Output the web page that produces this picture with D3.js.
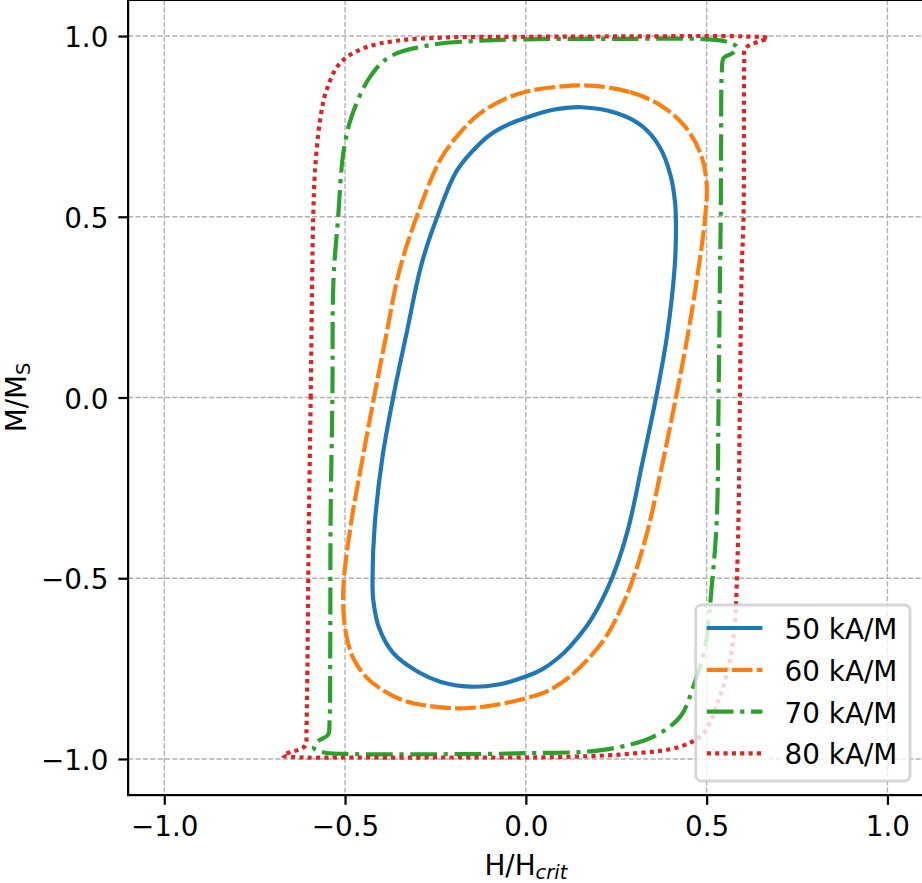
<!DOCTYPE html>
<html>
<head>
<meta charset="utf-8">
<script src="https://cdn.jsdelivr.net/npm/d3@7/dist/d3.min.js"></script>
<style>
  html, body { margin: 0; padding: 0; background: #fff; overflow: hidden; }
  svg { display: block; font-family: "DejaVu Sans", sans-serif; }
</style>
</head>
<body>
<script>
// ---------------- DATA ----------------
const seriesNames = ["50 kA/M", "60 kA/M", "70 kA/M", "80 kA/M"];

// Each loop: [H/Hcrit, M/Ms] points, ordered along the loop
const loop50 = [
  [0.155, 0.803], [0.250, 0.787], [0.320, 0.752], [0.370, 0.693], [0.400, 0.615],
  [0.413, 0.535], [0.415, 0.450], [0.411, 0.353], [0.390, 0.168], [0.360, 0.000],
  [0.322, -0.182], [0.282, -0.367], [0.238, -0.500], [0.180, -0.615], [0.122, -0.689],
  [0.090, -0.720], [0.045, -0.752], [0.000, -0.772], [-0.076, -0.794], [-0.154, -0.800],
  [-0.235, -0.787], [-0.300, -0.758], [-0.366, -0.708], [-0.405, -0.640], [-0.422, -0.560],
  [-0.424, -0.500], [-0.418, -0.353], [-0.397, -0.168], [-0.367, 0.000], [-0.329, 0.182],
  [-0.289, 0.367], [-0.245, 0.500], [-0.190, 0.629], [-0.127, 0.703], [-0.090, 0.733],
  [-0.045, 0.757], [0.000, 0.774], [0.076, 0.796]
];

const loop60 = [
  [0.178, 0.863], [0.288, 0.845], [0.370, 0.810], [0.440, 0.750], [0.485, 0.670],
  [0.500, 0.590], [0.496, 0.500], [0.477, 0.353], [0.447, 0.168], [0.415, 0.000],
  [0.378, -0.182], [0.337, -0.367], [0.297, -0.500], [0.260, -0.590], [0.214, -0.673],
  [0.122, -0.772], [0.060, -0.812], [0.000, -0.832], [-0.100, -0.853], [-0.191, -0.860],
  [-0.270, -0.853], [-0.339, -0.838], [-0.395, -0.810], [-0.440, -0.775], [-0.478, -0.720],
  [-0.498, -0.650], [-0.505, -0.580], [-0.503, -0.500], [-0.482, -0.339], [-0.454, -0.182],
  [-0.420, 0.000], [-0.387, 0.168], [-0.350, 0.350], [-0.302, 0.500], [-0.237, 0.657],
  [-0.180, 0.735], [-0.127, 0.786], [-0.060, 0.825], [0.000, 0.846], [0.090, 0.860]
];

const loop70 = [
  [-0.532, 0.325], [-0.519, 0.500], [-0.505, 0.675], [-0.482, 0.777], [-0.431, 0.887],
  [-0.376, 0.943], [-0.265, 0.975], [-0.127, 0.987], [0.000, 0.991], [0.250, 0.992],
  [0.500, 0.991], [0.560, 0.983], [0.584, 0.969], [0.572, 0.953], [0.547, 0.939],
  [0.542, 0.900], [0.540, 0.700], [0.539, 0.500], [0.537, 0.353], [0.533, 0.000],
  [0.528, -0.339], [0.514, -0.523], [0.496, -0.689], [0.463, -0.800], [0.427, -0.883],
  [0.353, -0.938], [0.214, -0.975], [0.000, -0.984], [-0.247, -0.987], [-0.500, -0.986],
  [-0.558, -0.982], [-0.586, -0.970], [-0.576, -0.952], [-0.547, -0.933], [-0.543, -0.900],
  [-0.541, -0.700], [-0.540, -0.339], [-0.535, 0.000]
];

const loop80 = [
  [-0.600, -0.339], [-0.595, 0.000], [-0.591, 0.325], [-0.588, 0.500], [-0.583, 0.629],
  [-0.569, 0.768], [-0.551, 0.851], [-0.514, 0.925], [-0.450, 0.966], [-0.357, 0.987],
  [-0.219, 0.996], [0.000, 0.998], [0.300, 0.999], [0.600, 0.999], [0.670, 0.994],
  [0.648, 0.986], [0.625, 0.977], [0.606, 0.966], [0.604, 0.930], [0.602, 0.500],
  [0.597, 0.353], [0.592, 0.000], [0.588, -0.339], [0.583, -0.523], [0.579, -0.615],
  [0.565, -0.726], [0.533, -0.837], [0.491, -0.929], [0.427, -0.966], [0.307, -0.984],
  [0.122, -0.994], [-0.247, -0.996], [-0.523, -0.996], [-0.615, -0.996], [-0.672, -0.990],
  [-0.650, -0.981], [-0.627, -0.974], [-0.609, -0.962], [-0.607, -0.930]
];

const xTickValues = [-1.0, -0.5, 0.0, 0.5, 1.0];
const xTickLabels = ["\u22121.0", "\u22120.5", "0.0", "0.5", "1.0"];
const yTickValues = [-1.0, -0.5, 0.0, 0.5, 1.0];
const yTickLabels = ["\u22121.0", "\u22120.5", "0.0", "0.5", "1.0"];
const xDomain = [-1.1, 1.1];
const yDomain = [-1.1, 1.1];

// ---------------- LAYOUT / STYLE ----------------
const W = 922, H = 883;
const plot = { left: 128.1, right: 923.6, top: -0.1, bottom: 795.1 };
const FS = 27.8;            // 10pt @ 200dpi
const LW = 4.17;            // 1.5pt
const colors = ["#1f77b4", "#ff7f0e", "#2ca02c", "#d62728"];
const dashes = [null, "20.8,4.17", "26.7,6.67,4.17,6.67", "4.17,4.17"];
const loops = [loop50, loop60, loop70, loop80];

const svg = d3.select("body").append("svg").attr("width", W).attr("height", H);

const x = d3.scaleLinear().domain(xDomain).range([plot.left, plot.right]);
const y = d3.scaleLinear().domain(yDomain).range([plot.bottom, plot.top]);

svg.append("defs").append("clipPath").attr("id", "clip")
  .append("rect")
  .attr("x", plot.left).attr("y", plot.top)
  .attr("width", plot.right - plot.left).attr("height", plot.bottom - plot.top);

// grid
const grid = svg.append("g").attr("clip-path", "url(#clip)")
  .attr("stroke", "#b0b0b0").attr("stroke-width", 1.39)
  .attr("stroke-dasharray", "5.14,2.22").attr("fill", "none");
grid.selectAll("line.gx").data(xTickValues).join("line").attr("class", "gx")
  .attr("x1", d => x(d)).attr("x2", d => x(d))
  .attr("y1", plot.top).attr("y2", plot.bottom);
grid.selectAll("line.gy").data(yTickValues).join("line").attr("class", "gy")
  .attr("y1", d => y(d)).attr("y2", d => y(d))
  .attr("x1", plot.left).attr("x2", plot.right);

// curves
const line = d3.line()
  .x(d => x(d[0])).y(d => y(d[1]))
  .curve(d3.curveCatmullRomClosed.alpha(0.5));

const curves = svg.append("g").attr("clip-path", "url(#clip)");
loops.forEach((pts, i) => {
  curves.append("path")
    .datum(pts)
    .attr("d", line)
    .attr("fill", "none")
    .attr("stroke", colors[i])
    .attr("stroke-width", LW)
    .attr("stroke-linejoin", "round")
    .attr("stroke-linecap", "butt")
    .attr("stroke-dasharray", dashes[i]);
});

// axes
const xAxis = d3.axisBottom(x).tickValues(xTickValues)
  .tickFormat((d, i) => xTickLabels[i]).tickSize(9.72).tickPadding(11.3);
const yAxis = d3.axisLeft(y).tickValues(yTickValues)
  .tickFormat((d, i) => yTickLabels[i]).tickSize(9.72).tickPadding(10);

const gx = svg.append("g").attr("transform", `translate(0,${plot.bottom})`).call(xAxis);
const gy = svg.append("g").attr("transform", `translate(${plot.left},0)`).call(yAxis);
[gx, gy].forEach(g => {
  g.select(".domain").remove();
  g.selectAll(".tick line").attr("stroke", "#000").attr("stroke-width", 2.22);
  g.selectAll(".tick text").attr("fill", "#000")
    .style("font-family", "'DejaVu Sans', sans-serif").style("font-size", FS + "px");
});
gy.selectAll(".tick text").attr("dy", "0.385em");

// spines
svg.append("rect")
  .attr("x", plot.left).attr("y", plot.top)
  .attr("width", plot.right - plot.left).attr("height", plot.bottom - plot.top)
  .attr("fill", "none").attr("stroke", "#000").attr("stroke-width", 2.22);

// axis labels
const xl = svg.append("text")
  .attr("x", (plot.left + plot.right) / 2).attr("y", 875)
  .attr("text-anchor", "middle").style("font-size", FS + "px").attr("fill", "#000");
xl.append("tspan").text("H/H");
xl.append("tspan").attr("dy", 4.3).style("font-size", (FS * 0.7) + "px")
  .style("font-style", "italic").text("crit");

const yl = svg.append("text")
  .attr("transform", `translate(26,${(plot.top + plot.bottom) / 2}) rotate(-90)`)
  .attr("text-anchor", "middle").style("font-size", FS + "px").attr("fill", "#000");
yl.append("tspan").text("M/M");
yl.append("tspan").attr("dy", 3.5).style("font-size", (FS * 0.7) + "px").text("S");

// legend
const leg = { x: 695.7, y: 605, w: 214.3, h: 176, row0: 628, step: 41.8,
  hx0: 706.8, hx1: 762.4, tx: 784.6 };
const lg = svg.append("g");
lg.append("rect")
  .attr("x", leg.x).attr("y", leg.y).attr("width", leg.w).attr("height", leg.h)
  .attr("rx", 5.56).attr("ry", 5.56)
  .attr("fill", "#fff").attr("fill-opacity", 0.8)
  .attr("stroke", "#cccccc").attr("stroke-opacity", 0.8).attr("stroke-width", 2.78);
seriesNames.forEach((name, i) => {
  const ry = leg.row0 + i * leg.step;
  lg.append("line")
    .attr("x1", leg.hx0).attr("x2", leg.hx1).attr("y1", ry).attr("y2", ry)
    .attr("stroke", colors[i]).attr("stroke-width", LW)
    .attr("stroke-dasharray", dashes[i]).attr("stroke-linecap", "butt");
  lg.append("text")
    .attr("x", leg.tx).attr("y", ry + 11)
    .style("font-size", FS + "px").attr("fill", "#000").text(name);
});
</script>
</body>
</html>
